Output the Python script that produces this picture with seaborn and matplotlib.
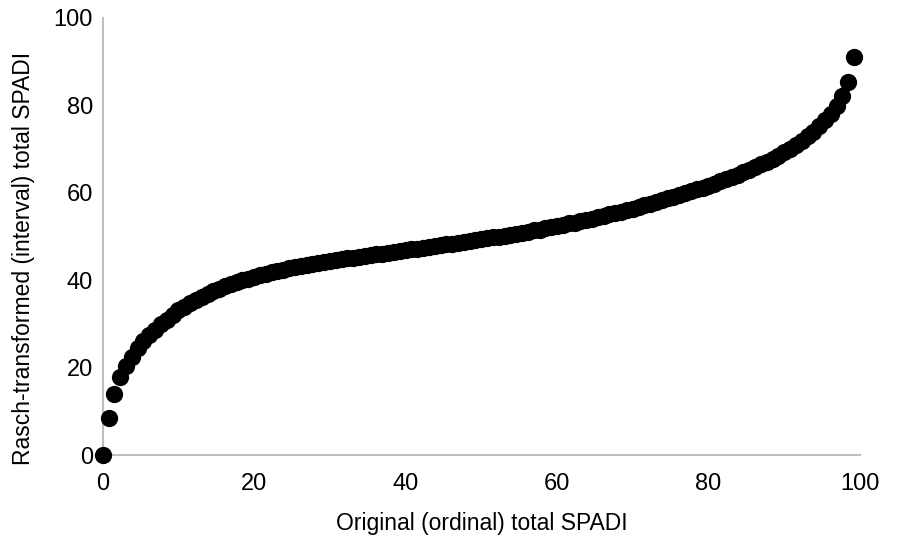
import matplotlib
matplotlib.use("Agg")
import matplotlib.pyplot as plt
import seaborn as sns
import pandas as pd

original_score = [
    0.00, 0.77, 1.54, 2.31, 3.08, 3.85, 4.62, 5.38, 6.15, 6.92,
    7.69, 8.46, 9.23, 10.00, 10.77, 11.54, 12.31, 13.08, 13.85, 14.62,
    15.38, 16.15, 16.92, 17.69, 18.46, 19.23, 20.00, 20.77, 21.54, 22.31,
    23.08, 23.85, 24.62, 25.38, 26.15, 26.92, 27.69, 28.46, 29.23, 30.00,
    30.77, 31.54, 32.31, 33.08, 33.85, 34.62, 35.38, 36.15, 36.92, 37.69,
    38.46, 39.23, 40.00, 40.77, 41.54, 42.31, 43.08, 43.85, 44.62, 45.38,
    46.15, 46.92, 47.69, 48.46, 49.23, 50.00, 50.77, 51.54, 52.31, 53.08,
    53.85, 54.62, 55.38, 56.15, 56.92, 57.69, 58.46, 59.23, 60.00, 60.77,
    61.54, 62.31, 63.08, 63.85, 64.62, 65.38, 66.15, 66.92, 67.69, 68.46,
    69.23, 70.00, 70.77, 71.54, 72.31, 73.08, 73.85, 74.62, 75.38, 76.15,
    76.92, 77.69, 78.46, 79.23, 80.00, 80.77, 81.54, 82.31, 83.08, 83.85,
    84.62, 85.38, 86.15, 86.92, 87.69, 88.46, 89.23, 90.00, 90.77, 91.54,
    92.31, 93.08, 93.85, 94.62, 95.38, 96.15, 96.92, 97.69, 98.46, 99.23,
]

rasch_score = [
    0.0, 8.4, 14.0, 17.9, 20.4, 22.5, 24.4, 26.0, 27.4, 28.7,
    29.9, 31.0, 32.1, 33.1, 34.0, 34.8, 35.5, 36.2, 36.9, 37.5,
    38.1, 38.6, 39.1, 39.6, 40.0, 40.4, 40.8, 41.2, 41.5, 41.8,
    42.1, 42.4, 42.7, 43.0, 43.2, 43.5, 43.7, 43.9, 44.1, 44.4,
    44.6, 44.8, 45.0, 45.2, 45.4, 45.6, 45.7, 45.9, 46.1, 46.3,
    46.5, 46.7, 46.9, 47.1, 47.2, 47.4, 47.6, 47.8, 48.0, 48.2,
    48.4, 48.6, 48.8, 49.0, 49.2, 49.4, 49.6, 49.8, 50.0, 50.2,
    50.4, 50.6, 50.9, 51.1, 51.4, 51.6, 51.9, 52.1, 52.4, 52.7,
    53.0, 53.2, 53.5, 53.8, 54.1, 54.4, 54.7, 55.1, 55.4, 55.7,
    56.0, 56.3, 56.7, 57.1, 57.5, 57.9, 58.3, 58.7, 59.1, 59.5,
    59.9, 60.3, 60.8, 61.2, 61.6, 62.1, 62.6, 63.1, 63.6, 64.1,
    64.7, 65.3, 65.9, 66.5, 67.1, 67.8, 68.5, 69.3, 70.1, 71.0,
    71.9, 72.9, 74.0, 75.2, 76.6, 78.1, 79.9, 82.1, 85.4, 91.0,
]

x_ticks = [0, 20, 40, 60, 80, 100]
y_ticks = [0, 20, 40, 60, 80, 100]

df = pd.DataFrame({"orig": original_score, "rasch": rasch_score})

sns.set_style("white")
plt.rcParams["font.family"] = ["Liberation Sans", "DejaVu Sans"]
plt.rcParams["text.color"] = "black"
plt.rcParams["axes.labelcolor"] = "black"

fig = plt.figure(figsize=(9.09, 5.40), dpi=100)
ax = fig.add_axes([0.113, 0.157, 0.833, 0.81])

sns.scatterplot(data=df, x="orig", y="rasch", ax=ax, color="black",
                s=155, edgecolor="black", linewidth=0, clip_on=False, zorder=3)

ax.set_xlim(0, 100)
ax.set_ylim(0, 100)
ax.set_xticks(x_ticks)
ax.set_yticks(y_ticks)
ax.tick_params(axis="both", length=0, labelsize=17, colors="black")
ax.tick_params(axis="x", pad=13)
ax.tick_params(axis="y", pad=7)

for side in ["top", "right"]:
    ax.spines[side].set_visible(False)
for side in ["left", "bottom"]:
    ax.spines[side].set_color("#BFBFBF")
    ax.spines[side].set_linewidth(1.5)

ax.set_xlabel("Original (ordinal) total SPADI", fontsize=16.5)
ax.set_ylabel("Rasch-transformed (interval) total SPADI", fontsize=16.5)
ax.xaxis.set_label_coords(0.5, -0.13)
ax.yaxis.set_label_coords(-0.09, 0.45)

fig.savefig("out.png", dpi=100)
